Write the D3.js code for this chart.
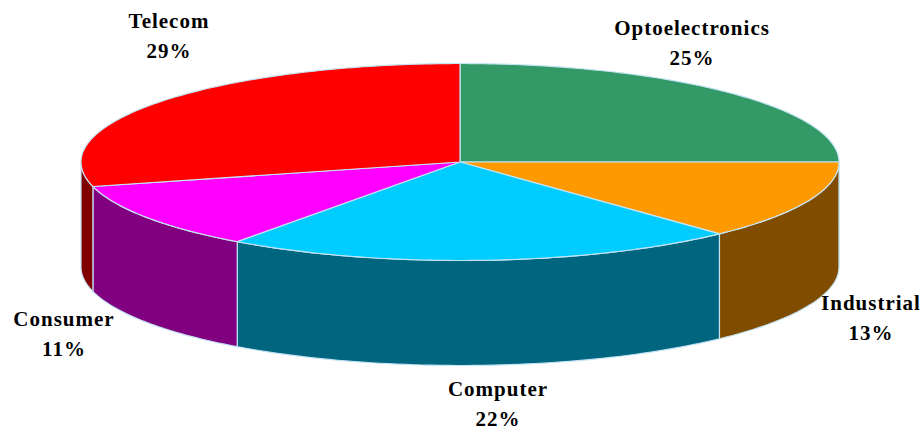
<!DOCTYPE html>
<html>
<head>
<meta charset="utf-8">
<script src="https://cdn.jsdelivr.net/npm/d3@7"></script>
<style>
	html, body { margin: 0; padding: 0; background: #fff; }
	svg { display: block; }
	.label { font-family: "Liberation Serif", serif; font-weight: bold; font-size: 21px; letter-spacing: 1px; fill: #000; text-anchor: middle; }
</style>
</head>
<body>
<div id="vis"></div>
<script>
// chart data
const CATEGORIES = ["Optoelectronics", "Industrial", "Computer", "Consumer", "Telecom"];
const VALUES = [25, 13, 22, 11, 29];
const TOP_COLORS = ["#339966", "#FF9900", "#00CCFF", "#FF00FF", "#FF0000"];
const SIDE_COLORS = ["#1A4D33", "#804D00", "#006680", "#800080", "#800000"];

// layout constants
const FRAME_WIDTH = 923;
const FRAME_HEIGHT = 430;
const CENTER = {x: 460, y: 162};
const RX = 379;
const RY = 98.5;
const DEPTH = 105;
const EDGE_COLOR = "#C4E4F4";
const LABEL_X = [692, 871, 498, 64, 169];
const LABEL_Y = [35, 310, 396, 326, 28];
const LINE_GAP = 30;

const FRAME = d3.select("#vis")
	.append("svg")
		.attr("width", FRAME_WIDTH)
		.attr("height", FRAME_HEIGHT);

const SLICES = d3.pie().sort(null)(VALUES);

// projection of a pie angle (0 = top, clockwise) on the tilted ellipse
const X_SCALE = d3.scaleLinear().domain([-1, 1]).range([CENTER.x - RX, CENTER.x + RX]);
const Y_SCALE = d3.scaleLinear().domain([-1, 1]).range([CENTER.y - RY, CENTER.y + RY]);
const px = (a) => X_SCALE(Math.sin(a));
const py = (a) => Y_SCALE(-Math.cos(a));

// outline of the front wall for the visible part of a slice
function sidePath(d) {
	let a0 = Math.max(d.startAngle, Math.PI / 2);
	let a1 = Math.min(d.endAngle, Math.PI * 3 / 2);
	if (a1 <= a0) return null;
	let steps = d3.range(0, 61).map((i) => a0 + (a1 - a0) * i / 60);
	let upper = steps.map((a) => [px(a), py(a)]);
	let lower = steps.slice().reverse().map((a) => [px(a), py(a) + DEPTH]);
	return d3.line()(upper.concat(lower)) + "Z";
}

// outline of a slice on the top face
function topPath(d) {
	let steps = d3.range(0, 121).map((i) => d.startAngle + (d.endAngle - d.startAngle) * i / 120);
	return d3.line()([[CENTER.x, CENTER.y]].concat(steps.map((a) => [px(a), py(a)]))) + "Z";
}

FRAME.selectAll(".side")
	.data(SLICES.filter((d) => sidePath(d) !== null))
	.enter()
	.append("path")
		.attr("class", "side")
		.attr("d", sidePath)
		.attr("fill", (d) => SIDE_COLORS[d.index])
		.attr("stroke", EDGE_COLOR)
		.attr("stroke-width", 1.2);

FRAME.selectAll(".slice")
	.data(SLICES)
	.enter()
	.append("path")
		.attr("class", "slice")
		.attr("d", topPath)
		.attr("fill", (d) => TOP_COLORS[d.index])
		.attr("stroke", EDGE_COLOR)
		.attr("stroke-width", 1.2);

// labels, name above percent
const LABELS = FRAME.selectAll(".label")
	.data(CATEGORIES)
	.enter()
	.append("text")
		.attr("class", "label");

LABELS.append("tspan")
	.attr("x", (d, i) => LABEL_X[i])
	.attr("y", (d, i) => LABEL_Y[i])
	.text((d) => d);

LABELS.append("tspan")
	.attr("x", (d, i) => LABEL_X[i])
	.attr("y", (d, i) => LABEL_Y[i] + LINE_GAP)
	.text((d, i) => VALUES[i] + "%");
</script>
</body>
</html>
